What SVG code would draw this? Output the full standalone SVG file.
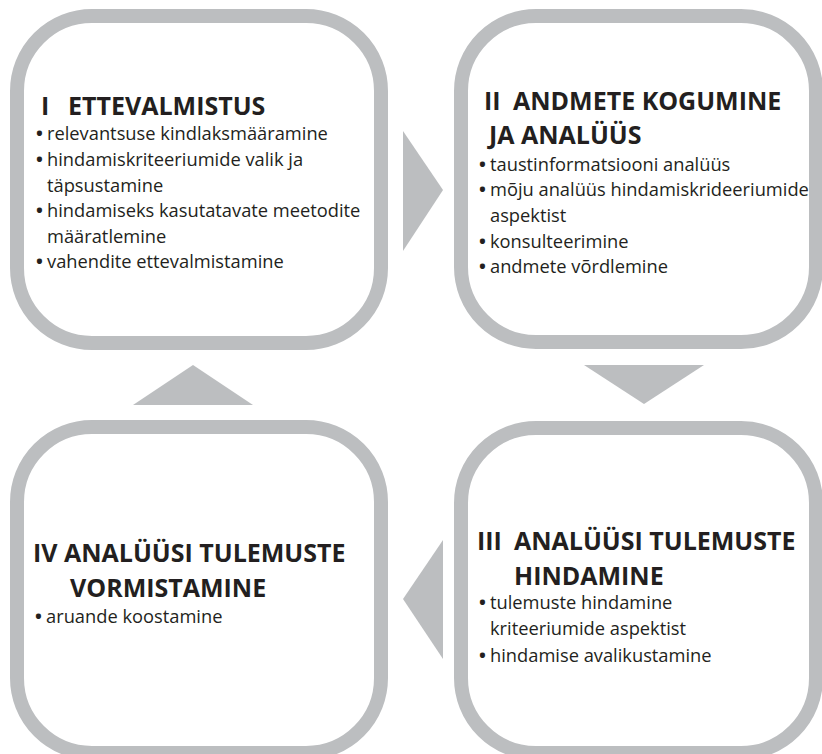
<svg xmlns="http://www.w3.org/2000/svg" width="822" height="754" viewBox="0 0 822 754">
<style>
.box{fill:#ffffff;stroke:#bcbec0;stroke-width:14}
.arrow{fill:#bcbec0}
.t{font-family:"Open Sans","Noto Sans",sans-serif;font-weight:bold;font-size:25px;fill:#231f20}
.b{font-family:"Open Sans","Noto Sans",sans-serif;font-size:18.3px;fill:#231f20}
.d{font-weight:bold}
</style>
<rect width="822" height="754" fill="#ffffff"/>
<g id="connectors">
<polygon class="arrow" points="403,131 443,190 403,251"/>
<polygon class="arrow" points="584,365 704,365 644,404"/>
<polygon class="arrow" points="443,540 443,659 403,599"/>
<polygon class="arrow" points="133,405 253,405 193,365"/>
</g>
<g id="node1">
<rect class="box" x="17" y="16" width="364" height="327" rx="75" ry="75"/>
<text class="t" x="41" y="115">I</text>
<text class="t" x="68" y="115">ETTEVALMISTUS</text>
<text class="b" y="140"><tspan class="d" x="36">•</tspan><tspan x="47">relevantsuse kindlaksmääramine</tspan></text>
<text class="b" y="166"><tspan class="d" x="36">•</tspan><tspan x="47">hindamiskriteeriumide valik ja</tspan></text>
<text class="b" x="47" y="192">täpsustamine</text>
<text class="b" y="217"><tspan class="d" x="36">•</tspan><tspan x="47">hindamiseks kasutatavate meetodite</tspan></text>
<text class="b" x="47" y="243">määratlemine</text>
<text class="b" y="268"><tspan class="d" x="36">•</tspan><tspan x="47">vahendite ettevalmistamine</tspan></text>
</g>
<g id="node2">
<rect class="box" x="461" y="16" width="355" height="326" rx="75" ry="75"/>
<text class="t" x="484" y="110">II</text>
<text class="t" x="513" y="110">ANDMETE KOGUMINE</text>
<text class="t" x="489" y="144">JA ANALÜÜS</text>
<text class="b" y="171"><tspan class="d" x="479">•</tspan><tspan x="490">taustinformatsiooni analüüs</tspan></text>
<text class="b" y="196"><tspan class="d" x="479">•</tspan><tspan x="490">mõju analüüs hindamiskrideeriumide</tspan></text>
<text class="b" x="490" y="222">aspektist</text>
<text class="b" y="248"><tspan class="d" x="479">•</tspan><tspan x="490">konsulteerimine</tspan></text>
<text class="b" y="273"><tspan class="d" x="479">•</tspan><tspan x="490">andmete võrdlemine</tspan></text>
</g>
<g id="node3">
<rect class="box" x="461" y="428" width="355" height="325" rx="75" ry="75"/>
<text class="t" x="477" y="550">III</text>
<text class="t" x="514" y="550">ANALÜÜSI TULEMUSTE</text>
<text class="t" x="514" y="585">HINDAMINE</text>
<text class="b" y="609"><tspan class="d" x="479">•</tspan><tspan x="490">tulemuste hindamine</tspan></text>
<text class="b" x="490" y="635">kriteeriumide aspektist</text>
<text class="b" y="662"><tspan class="d" x="479">•</tspan><tspan x="490">hindamise avalikustamine</tspan></text>
</g>
<g id="node4">
<rect class="box" x="17" y="427" width="364" height="326" rx="75" ry="75"/>
<text class="t" x="33" y="562">IV ANALÜÜSI TULEMUSTE</text>
<text class="t" x="70" y="597">VORMISTAMINE</text>
<text class="b" y="623"><tspan class="d" x="35">•</tspan><tspan x="46">aruande koostamine</tspan></text>
</g>
</svg>
